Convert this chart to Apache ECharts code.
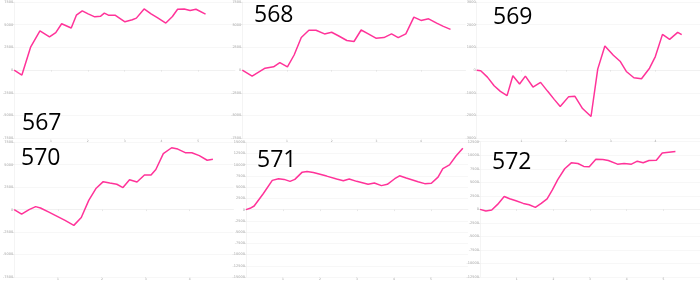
<!DOCTYPE html>
<html>
<head>
<meta charset="utf-8">
<script src="https://cdn.jsdelivr.net/npm/echarts@6/dist/echarts.min.js"></script>
<style>
html,body{margin:0;padding:0;background:#fff;}
#c{width:700px;height:281px;}
</style>
</head>
<body>
<div id="c"></div>
<script>
// ---- data (x = period index, y = value) ----
const titles = ['567', '568', '569', '570', '571', '572'];

const s567X = [0,0.21,0.45,0.70,0.96,1.13,1.29,1.55,1.69,1.85,2.01,2.19,2.35,2.45,2.56,2.74,3.01,3.21,3.32,3.53,3.72,3.90,4.12,4.30,4.44,4.62,4.78,4.94,5.20];
const s567Y = [0,-543,2572,4312,3660,4130,5109,4638,6051,6522,6196,5870,5942,6268,6051,6051,5326,5543,5725,6739,6196,5761,5181,5906,6703,6739,6558,6703,6159];

const s568X = [0,0.22,0.51,0.70,0.84,1.01,1.16,1.32,1.49,1.65,1.84,2.00,2.17,2.34,2.50,2.66,2.82,2.99,3.17,3.34,3.49,3.66,3.84,4.00,4.17,4.35,4.50,4.66];
const s568Y = [0,-652,217,362,833,362,1667,3587,4384,4384,3986,4167,3732,3261,3152,4420,3986,3514,3587,3986,3587,3986,5833,5471,5652,5181,4819,4493];

const s569X = [0,0.09,0.24,0.39,0.53,0.68,0.81,0.96,1.09,1.26,1.43,1.59,1.74,1.87,2.06,2.20,2.37,2.56,2.71,2.87,3.06,3.21,3.35,3.52,3.69,3.87,4.00,4.16,4.32,4.50,4.59];
const s569Y = [0,-29,-306,-685,-933,-1122,-248,-612,-262,-743,-539,-933,-1297,-1603,-1166,-1152,-1691,-2041,44,1064,656,394,-58,-335,-379,87,598,1574,1356,1662,1560];

const s570X = [0,0.17,0.34,0.49,0.60,0.78,0.97,1.16,1.36,1.53,1.70,1.87,2.03,2.18,2.34,2.48,2.63,2.80,2.97,3.12,3.23,3.40,3.59,3.73,3.90,4.05,4.22,4.40,4.53];
const s570Y = [0,-512,0,329,183,-256,-732,-1208,-1757,-878,1025,2379,3111,2965,2818,2452,3331,3075,3843,3843,4466,6223,6882,6735,6332,6332,6003,5490,5600];

const s571X = [0,0.11,0.22,0.47,0.71,0.88,1.03,1.19,1.32,1.52,1.65,1.82,1.95,2.18,2.45,2.63,2.79,2.99,3.30,3.47,3.66,3.82,4.02,4.15,4.33,4.65,4.83,5.01,5.19,5.32,5.50,5.68,5.86];
const s571Y = [0,292,804,3582,6506,6871,6725,6287,6725,8333,8480,8260,7968,7456,6798,6433,6798,6287,5629,5921,5336,5629,6871,7529,7018,6213,5775,5848,7237,9137,9942,11988,13670];

const s572X = [0,0.16,0.32,0.48,0.66,0.81,0.98,1.18,1.34,1.51,1.67,1.83,1.97,2.12,2.31,2.49,2.67,2.83,2.98,3.16,3.35,3.50,3.75,3.93,4.13,4.29,4.45,4.61,4.81,4.97,5.15,5.33];
const s572Y = [0,-305,-122,915,2378,1951,1585,1098,854,366,1098,1951,3537,5488,7500,8598,8476,7927,7866,9268,9207,9024,8354,8476,8354,8902,8598,9024,9085,10427,10549,10671];

// axis ranges per panel
const xMax = [6, 5, 5, 5, 6, 6];
const yMax = [7500, 7500, 3000, 7500, 15000, 12500];
const yStep = [2500, 2500, 1000, 2500, 2500, 2500];

const seriesX = [s567X, s568X, s569X, s570X, s571X, s572X];
const seriesY = [s567Y, s568Y, s569Y, s570Y, s571Y, s572Y];

// ---- layout ----
const gridBoxes = [
  {left: 11,    top: 1.7, width: 224,   height: 136.6},
  {left: 242.3, top: 1.7, width: 223.4, height: 136.6},
  {left: 476.7, top: 1.7, width: 223.3, height: 136.6},
  {left: 10,    top: 142.2, width: 223.5, height: 136.9},
  {left: 246,   top: 142.2, width: 222,   height: 137.1},
  {left: 480,   top: 141.7, width: 220,   height: 136.6}
];
const titlePos = [[22, 112], [254, 4], [493, 5.5], [21, 146.5], [257, 148.5], [492, 150.5]];

const labelStyle = {fontSize: 3.5, color: '#a0a0a0', fontFamily: 'DejaVu Sans'};
const plain = v => String(v);
const grids = [], xAxes = [], yAxes = [], series = [], graphics = [];
for (let i = 0; i < 6; i++) {
  grids.push(Object.assign({}, gridBoxes[i]));
  xAxes.push({
    type: 'value', gridIndex: i, min: 0, max: xMax[i], interval: 1,
    axisLine: {show: true, onZero: true, lineStyle: {color: '#ececec', width: 0.6}},
    axisTick: {show: true, length: 1.5, lineStyle: {color: '#d8d8d8', width: 0.6}},
    axisLabel: Object.assign({show: true, margin: 1, showMinLabel: false, showMaxLabel: false, formatter: plain}, labelStyle, {fontSize: 3}),
    splitLine: {show: false}
  });
  yAxes.push({
    type: 'value', gridIndex: i, min: -yMax[i], max: yMax[i], interval: yStep[i],
    axisLine: {show: true, lineStyle: {color: '#ececec', width: 0.6}},
    axisTick: {show: true, length: 1.5, lineStyle: {color: '#d8d8d8', width: 0.6}},
    axisLabel: Object.assign({show: true, margin: 1, formatter: plain}, labelStyle),
    splitLine: {show: true, lineStyle: {color: '#f1f1f1', width: 0.6}}
  });
  series.push({
    type: 'line', xAxisIndex: i, yAxisIndex: i,
    data: seriesX[i].map((x, k) => [x, seriesY[i][k]]),
    showSymbol: false, symbol: 'none',
    lineStyle: {color: '#ff3399', width: 1.5},
    animation: false
  });
  graphics.push({
    type: 'text', x: titlePos[i][0], y: titlePos[i][1], z: 100,
    style: {text: titles[i], font: '23px "Open Sans"', fill: '#000', verticalAlign: 'top'}
  });
}

const chart = echarts.init(document.getElementById('c'), null, {renderer: 'canvas'});
chart.setOption({
  animation: false,
  backgroundColor: '#fff',
  grid: grids,
  xAxis: xAxes,
  yAxis: yAxes,
  series: series,
  graphic: graphics
});
</script>
</body>
</html>
